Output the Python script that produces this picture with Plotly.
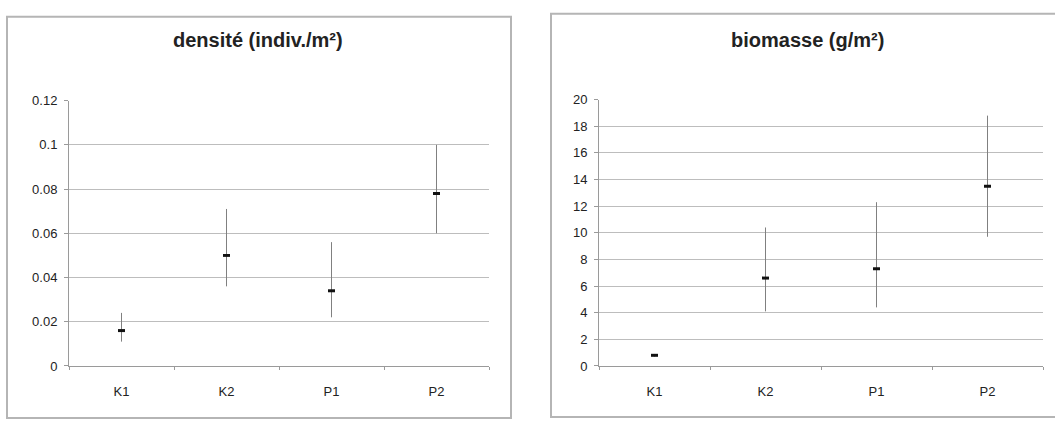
import plotly.graph_objects as go

# Sampling stations
categories = ["K1", "K2", "P1", "P2"]

# Density (indiv./m²): mean with lower / upper bounds
dens_mean = [0.016, 0.050, 0.034, 0.078]
dens_upper = [0.024, 0.071, 0.056, 0.100]
dens_lower = [0.011, 0.036, 0.022, 0.060]

# Biomass (g/m²): mean with lower / upper bounds
bio_mean = [0.8, 6.6, 7.3, 13.5]
bio_upper = [0.9, 10.4, 12.3, 18.8]
bio_lower = [0.7, 4.1, 4.4, 9.7]

W, H = 1055, 428
FONT = "Liberation Sans, Arial, sans-serif"


def px_x(v):
    return v / W


def px_y(v):
    return 1 - v / H


def trace(means, upper, lower, xa, ya):
    return go.Scatter(
        x=categories,
        y=means,
        mode="markers",
        xaxis=xa,
        yaxis=ya,
        marker=dict(symbol="line-ew", size=5, line=dict(color="#111111", width=3)),
        error_y=dict(
            type="data",
            symmetric=False,
            array=[u - m for u, m in zip(upper, means)],
            arrayminus=[m - l for m, l in zip(means, lower)],
            color="#808080",
            thickness=1,
            width=0,
        ),
        showlegend=False,
        hoverinfo="skip",
    )


fig = go.Figure()
fig.add_trace(trace(dens_mean, dens_upper, dens_lower, "x", "y"))
fig.add_trace(trace(bio_mean, bio_upper, bio_lower, "x2", "y2"))

xcommon = dict(
    type="category",
    categoryorder="array",
    categoryarray=categories,
    range=[-0.5, 3.5],
    showline=True,
    linecolor="#9a9a9a",
    linewidth=1,
    ticks="outside",
    tickson="boundaries",
    ticklen=3,
    tickcolor="#9a9a9a",
    ticklabelstandoff=13,
    showgrid=False,
    tickfont=dict(family=FONT, size=13, color="#222222"),
    fixedrange=True,
)
ycommon = dict(
    showline=True,
    linecolor="#9a9a9a",
    linewidth=1,
    ticks="outside",
    ticklen=4,
    tickcolor="#9a9a9a",
    ticklabelstandoff=4,
    showgrid=True,
    gridcolor="#bdbdbd",
    gridwidth=1,
    zeroline=False,
    tickfont=dict(family=FONT, size=13, color="#222222"),
    fixedrange=True,
)

fig.update_layout(
    width=W,
    height=H,
    margin=dict(l=0, r=0, t=0, b=0),
    paper_bgcolor="white",
    plot_bgcolor="white",
    xaxis=dict(xcommon, domain=[px_x(69), px_x(489)], anchor="y"),
    yaxis=dict(ycommon, domain=[px_y(372), px_y(97)], range=[0, 0.12], dtick=0.02, anchor="x"),
    xaxis2=dict(xcommon, domain=[px_x(599), px_x(1043)], anchor="y2"),
    yaxis2=dict(ycommon, domain=[px_y(372), px_y(96)], range=[0, 20], dtick=2, anchor="x2"),
    annotations=[
        dict(text="<b>densité (indiv./m²)</b>", x=px_x(258), y=px_y(34), xref="paper", yref="paper",
             xanchor="center", yanchor="middle", showarrow=False,
             font=dict(family=FONT, size=20, color="#222222")),
        dict(text="<b>biomasse (g/m²)</b>", x=px_x(807), y=px_y(34), xref="paper", yref="paper",
             xanchor="center", yanchor="middle", showarrow=False,
             font=dict(family=FONT, size=20, color="#222222")),
    ],
    shapes=[
        dict(type="rect", xref="paper", yref="paper", x0=px_x(7), x1=px_x(511), y0=px_y(426), y1=px_y(10),
             line=dict(color="#b5b5b5", width=2)),
        dict(type="rect", xref="paper", yref="paper", x0=px_x(551), x1=px_x(1062), y0=px_y(425), y1=px_y(7),
             line=dict(color="#b5b5b5", width=2)),
    ],
)

fig.write_html("out.html")
